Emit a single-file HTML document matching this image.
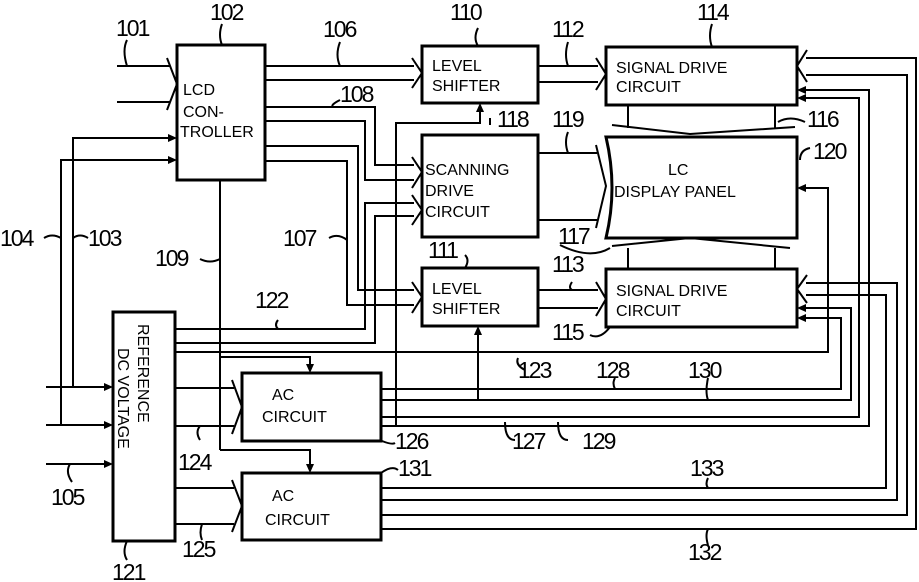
<!DOCTYPE html>
<html><head><meta charset="utf-8"><style>
html,body{margin:0;padding:0;background:#fff;}
svg{display:block;}
text{font-family:"Liberation Sans",sans-serif;fill:#000;}
.l{font-size:23px;letter-spacing:-2px;}
.b{font-size:16px;}
</style></head><body>
<svg width="919" height="582" viewBox="0 0 919 582" xmlns="http://www.w3.org/2000/svg">
<g fill="none" stroke="#000" stroke-width="2">
<rect x="177" y="45" width="88" height="135" stroke-width="3"/>
<rect x="422" y="46" width="116" height="57" stroke-width="3"/>
<rect x="606" y="47" width="191" height="58" stroke-width="3"/>
<rect x="422" y="135" width="116" height="102" stroke-width="3"/>
<path d="M606 137 H797 V238 H606 Q618 188 606 137 Z" stroke-width="3"/>
<rect x="422" y="268" width="116" height="58" stroke-width="3"/>
<rect x="606" y="269" width="191" height="58" stroke-width="3"/>
<rect x="113" y="312" width="62" height="229" stroke-width="3"/>
<rect x="242" y="373" width="139" height="68" stroke-width="3"/>
<rect x="242" y="473" width="139" height="67" stroke-width="3"/>
<path d="M117 66 H170 M117 102 H170 M167 58 L177 84 L167 110"/>
<path d="M73 387 V138 H170 M61 425 V160 H170"/>
<path d="M46 387 H106 M46 425 H106 M46 464 H106"/>
<path d="M265 66 H414 M265 80 H414 M412 58 L422 73 L412 88"/>
<path d="M265 107 H375 V165 H414 M265 121 H365 V180 H414 M412 157 L422 172 L412 188"/>
<path d="M265 146 H358 V290 H414 M265 161 H347 V305 H414 M412 282 L422 297 L412 313"/>
<path d="M175 329 H365 V203 H414 M175 343 H375 V216 H414 M412 195 L422 210 L412 225"/>
<path d="M220 180 V450 M220 357 H310 V366 M220 450 H310 V466"/>
<path d="M396 425 V123 H480 V110"/>
<path d="M538 66 H598 M538 82 H598 M596 58 L606 74 L596 90"/>
<path d="M538 290 H598 M538 308 H598 M596 282 L606 299 L596 316"/>
<path d="M538 153 H597 M538 220 H597 M596 145 L606 186 L596 228"/>
<path d="M628 105 V128 M775 105 V128 M612 125 L690 134 L795 127 M612 246 L690 238 L790 248 M628 248 V269 M775 248 V269"/>
<path d="M175 352 H828 V188 H804"/>
<path d="M478 400 V333"/>
<path d="M381 389 H841 V318 H804 M381 400 H851 V308 H804 M381 417 H859 V98 H804 M381 426 H869 V90 H804"/>
<path d="M381 488 H886 V295 H806 M381 500 H897 V283 H806 M381 515 H907 V75 H806 M381 529 H916 V58 H806"/>
<path d="M807 275 L797 289 L807 303 M807 50 L797 66 L807 82"/>
<path d="M175 388 H234 M175 426 H234 M232 380 L242 407 L232 434"/>
<path d="M175 488 H234 M175 524 H234 M232 480 L242 506 L232 532"/>
<path d="M127 40 Q122 50 127 66 M222 24 Q218 35 222 45 M340 42 Q335 55 340 66 M478 28 Q473 38 478 46 M568 42 Q564 55 568 66 M712 24 Q708 36 712 47 M340 100 Q330 105 333 107 M490 125 L490 118 M568 132 Q564 142 568 153 M778 122 Q790 115 805 122 M800 160 Q800 150 810 148 M44 238 Q52 233 61 238 M73 238 Q80 233 88 238 M200 259 Q210 264 220 259 M329 238 Q338 233 347 240 M465 255 Q470 260 465 268 M560 245 Q590 260 610 248 M572 282 Q568 288 572 290 M590 335 Q600 340 610 327 M278 320 Q274 325 278 329 M518 358 Q515 365 525 370 M615 378 Q612 383 615 389 M708 378 Q705 392 708 400 M382 441 Q392 445 395 443 M505 422 Q505 440 515 440 M558 422 Q558 440 568 440 M200 426 Q195 432 200 440 M381 473 Q392 465 398 470 M708 478 Q705 484 708 488 M202 524 Q199 533 202 540 M708 529 Q705 535 708 545 M127 541 Q122 552 127 560 M70 464 Q65 472 72 482"/>
</g>
<g fill="#000">
<polygon points="177,138 168,134 168,142"/>
<polygon points="177,160 168,156 168,164"/>
<polygon points="113,387 104,383 104,391"/>
<polygon points="113,425 104,421 104,429"/>
<polygon points="113,464 104,460 104,468"/>
<polygon points="310,373 306,364 314,364"/>
<polygon points="310,473 306,464 314,464"/>
<polygon points="480,103 476,112 484,112"/>
<polygon points="478,326 474,335 482,335"/>
<polygon points="797,188 806,184 806,192"/>
<polygon points="797,318 806,314 806,322"/>
<polygon points="797,308 806,304 806,312"/>
<polygon points="797,98 806,94 806,102"/>
<polygon points="797,90 806,86 806,94"/>
</g>
<text class="b" x="183" y="95">LCD</text>
<text class="b" x="183" y="117">CON-</text>
<text class="b" x="180" y="137">TROLLER</text>
<text class="b" x="432" y="71">LEVEL</text>
<text class="b" x="432" y="91">SHIFTER</text>
<text class="b" x="616" y="73">SIGNAL  DRIVE</text>
<text class="b" x="616" y="92">CIRCUIT</text>
<text class="b" x="425" y="175">SCANNING</text>
<text class="b" x="425" y="196">DRIVE</text>
<text class="b" x="425" y="217">CIRCUIT</text>
<text class="b" x="668" y="175">LC</text>
<text class="b" x="614" y="197">DISPLAY   PANEL</text>
<text class="b" x="432" y="294">LEVEL</text>
<text class="b" x="432" y="314">SHIFTER</text>
<text class="b" x="616" y="296">SIGNAL   DRIVE</text>
<text class="b" x="616" y="316">CIRCUIT</text>
<text class="b" x="272" y="400">AC</text>
<text class="b" x="262" y="422">CIRCUIT</text>
<text class="b" x="272" y="501">AC</text>
<text class="b" x="265" y="525">CIRCUIT</text>
<text class="b" transform="translate(138,324) rotate(90)">REFERENCE</text>
<text class="b" transform="translate(118,348) rotate(90)">DC  VOLTAGE</text>
<text class="l" x="116" y="36">101</text>
<text class="l" x="210" y="20">102</text>
<text class="l" x="323" y="37">106</text>
<text class="l" x="450" y="20">110</text>
<text class="l" x="552" y="37">112</text>
<text class="l" x="697" y="20">114</text>
<text class="l" x="340" y="102">108</text>
<text class="l" x="497" y="127">118</text>
<text class="l" x="552" y="127">119</text>
<text class="l" x="807" y="127">116</text>
<text class="l" x="813" y="159">120</text>
<text class="l" x="0" y="246">104</text>
<text class="l" x="88" y="246">103</text>
<text class="l" x="155" y="266">109</text>
<text class="l" x="283" y="246">107</text>
<text class="l" x="428" y="258">111</text>
<text class="l" x="558" y="244">117</text>
<text class="l" x="552" y="272">113</text>
<text class="l" x="552" y="340">115</text>
<text class="l" x="255" y="308">122</text>
<text class="l" x="518" y="378">123</text>
<text class="l" x="596" y="378">128</text>
<text class="l" x="688" y="378">130</text>
<text class="l" x="395" y="449">126</text>
<text class="l" x="512" y="449">127</text>
<text class="l" x="582" y="449">129</text>
<text class="l" x="178" y="470">124</text>
<text class="l" x="398" y="476">131</text>
<text class="l" x="690" y="476">133</text>
<text class="l" x="51" y="505">105</text>
<text class="l" x="182" y="557">125</text>
<text class="l" x="688" y="560">132</text>
<text class="l" x="112" y="580">121</text>
</svg>
</body></html>
